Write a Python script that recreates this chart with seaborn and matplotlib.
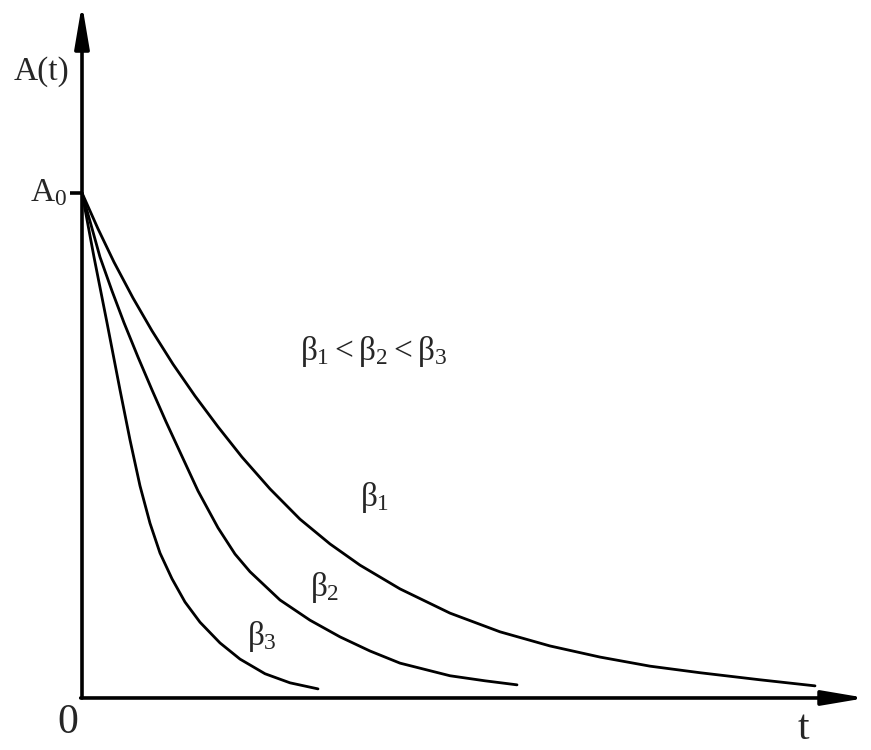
import numpy as np
import pandas as pd
import matplotlib
matplotlib.use('Agg')
import matplotlib.pyplot as plt
import seaborn as sns

# curve points (t, A) with A0 = 1
t_b1 = [0.0, 0.16, 0.32, 0.51, 0.70, 0.91, 1.13, 1.36, 1.60, 1.88, 2.18, 2.48, 2.78,
        3.18, 3.68, 4.18, 4.68, 5.18, 5.68, 6.18, 6.78, 7.33]
a_b1 = [1.0, 0.929, 0.863, 0.792, 0.727, 0.661, 0.598, 0.537, 0.477, 0.414, 0.354, 0.305,
        0.263, 0.216, 0.168, 0.131, 0.103, 0.081, 0.063, 0.050, 0.036, 0.024]

t_b2 = [0.0, 0.09, 0.18, 0.30, 0.42, 0.56, 0.70, 0.84, 0.98, 1.16, 1.36, 1.53, 1.68,
        1.98, 2.28, 2.58, 2.88, 3.18, 3.68, 4.03, 4.35]
a_b2 = [1.0, 0.937, 0.873, 0.806, 0.743, 0.675, 0.610, 0.547, 0.487, 0.410, 0.337, 0.285,
        0.250, 0.194, 0.154, 0.121, 0.093, 0.069, 0.044, 0.034, 0.026]

t_b3 = [0.0, 0.12, 0.25, 0.38, 0.48, 0.58, 0.68, 0.78, 0.90, 1.03, 1.18, 1.38, 1.58,
        1.83, 2.08, 2.36]
a_b3 = [1.0, 0.873, 0.743, 0.610, 0.511, 0.420, 0.346, 0.287, 0.236, 0.190, 0.150, 0.109,
        0.077, 0.048, 0.030, 0.018]

df = pd.concat([
    pd.DataFrame({'t': t_b1, 'A': a_b1, 'curve': 'b1'}),
    pd.DataFrame({'t': t_b2, 'A': a_b2, 'curve': 'b2'}),
    pd.DataFrame({'t': t_b3, 'A': a_b3, 'curve': 'b3'}),
])

sns.set_style('white')
plt.rcParams['font.family'] = ['Liberation Serif', 'DejaVu Serif']
plt.rcParams['mathtext.fontset'] = 'custom'
plt.rcParams['mathtext.rm'] = 'Liberation Serif'
plt.rcParams['mathtext.it'] = 'Liberation Serif'

fig = plt.figure(figsize=(8.71, 7.5), dpi=100)
ax = fig.add_axes([0, 0, 1, 1])
ax.set_xlim(-0.82, 7.89)
ax.set_ylim(-0.103, 1.382)
ax.axis('off')

sns.lineplot(data=df, x='t', y='A', hue='curve', palette=['black'] * 3,
             linewidth=2.0, legend=False, sort=False, ax=ax,
             solid_joinstyle='round', solid_capstyle='round')

# axes with arrows
arrow = dict(arrowstyle='-|>,head_length=1.3,head_width=0.22', lw=2.6,
             color='black', mutation_scale=20, shrinkA=0, shrinkB=0)
ax.annotate('', xy=(0, 1.374), xytext=(0, 0), arrowprops=arrow)
ax.annotate('', xy=(7.84, 0), xytext=(-0.013, 0), arrowprops=arrow)
ax.plot([-0.12, 0], [1, 1], color='black', lw=2.6, solid_capstyle='butt')

ax.text(-0.40, 1.24, 'A(t)', fontsize=24, ha='center', va='center')
ax.text(-0.15, 1.0, r'A$_0$', fontsize=24, ha='right', va='center')
ax.text(-0.14, -0.05, '0', fontsize=30, ha='center', va='center')
ax.text(7.21, -0.06, 't', fontsize=30, ha='center', va='center')
ax.text(2.92, 0.686, r'$\beta_1 < \beta_2 < \beta_3$', fontsize=24, ha='center', va='center')
ax.text(2.93, 0.396, r'$\beta_1$', fontsize=24, ha='center', va='center')
ax.text(2.43, 0.218, r'$\beta_2$', fontsize=24, ha='center', va='center')
ax.text(1.80, 0.121, r'$\beta_3$', fontsize=24, ha='center', va='center')

fig.savefig('out.png', dpi=100, facecolor='white')
